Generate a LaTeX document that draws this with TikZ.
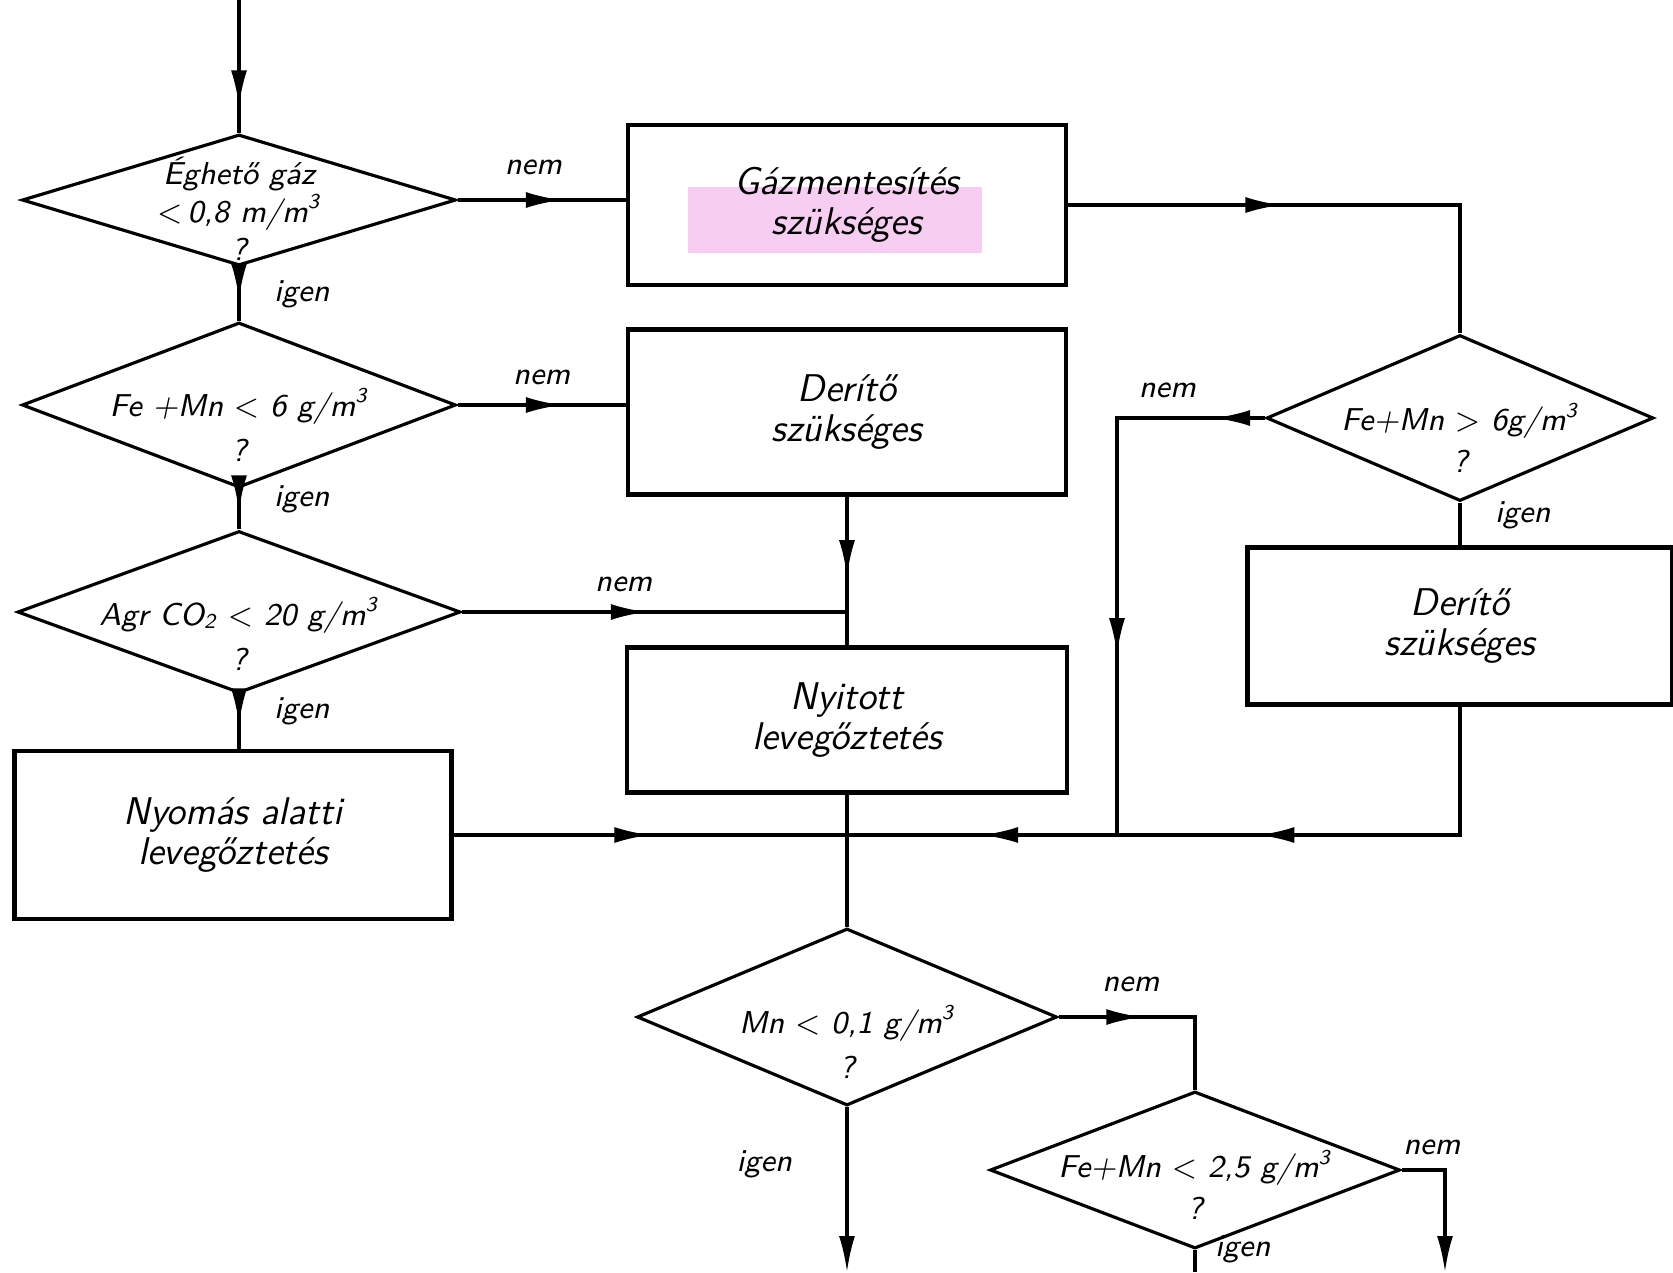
\documentclass[tikz,border=0pt]{standalone}
\usetikzlibrary{positioning, calc, arrows.meta, shapes.geometric, decorations.markings, backgrounds}

\begin{document}
\begin{tikzpicture}[
  >={Latex[length=3.6mm, width=1.6mm]}, line width=0.9pt,
  font=\sffamily\itshape,
  block/.style 2 args = {draw, rectangle, line width=1.2pt, inner sep=2pt, align=center,
                         minimum width=#1, minimum height=#2, font=\sffamily\itshape\fontsize{11}{11.5}\selectfont},
  dec/.style 2 args   = {draw, diamond, inner sep=0pt, minimum width=#1, minimum height=#2},
  dtxt/.style   = {align=center, inner sep=0pt, font=\sffamily\itshape\fontsize{9}{9}\selectfont},
  lbl/.style    = {font=\sffamily\itshape\small, inner sep=1pt},
  midtip/.style = {postaction={decorate, decoration={markings,
                   mark=at position #1 with {\arrow{>}}}}},
]
  \useasboundingbox (0,0) rectangle (16.73,-12.72);

  % ── left column: decisions ────────────────────────────────────────────
  \node[dec={4.34cm}{1.31cm}, label={[dtxt, yshift=-0.9mm]center:{Éghető gáz\\$<$\,0,8 m/m\textsuperscript{3}\\[2pt]?}}] (d1) at (2.39,-2.00) {};
  \node[dec={4.34cm}{1.65cm}, label={[dtxt, yshift=-2mm]center:{Fe +Mn $<$ 6 g/m\textsuperscript{3}\\[4pt]?}}] (d2) at (2.39,-4.05) {};
  \node[dec={4.43cm}{1.62cm}, label={[dtxt, yshift=-2.2mm]center:{Agr CO\textsubscript{2} $<$ 20 g/m\textsuperscript{3}\\[4pt]?}}] (d3) at (2.39,-6.12) {};
  \node[block={4.37cm}{1.68cm}] (b4) at (2.33,-8.35) {Nyomás alatti\\levegőztetés};

  % ── middle column: treatment steps ────────────────────────────────────
  \node[block={4.38cm}{1.60cm}] (b1) at (8.47,-2.05) {Gázmentesítés\\szükséges};
  \node[block={4.38cm}{1.65cm}] (b2) at (8.47,-4.12) {Derítő\\szükséges};
  \node[block={4.40cm}{1.45cm}] (b3) at (8.47,-7.20) {Nyitott\\levegőztetés};

  % highlighter mark on the scanned page
  \begin{scope}[on background layer]
    \fill[fill={rgb,255:red,247;green,206;blue,242}] ($(b1.center)+(-1.59,-0.48)$) rectangle ($(b1.center)+(1.35,0.18)$);
  \end{scope}

  % ── right column ──────────────────────────────────────────────────────
  \node[dec={3.87cm}{1.66cm}, label={[dtxt, yshift=-2mm]center:{Fe+Mn $>$ 6g/m\textsuperscript{3}\\[3pt]?}}] (d4) at (14.60,-4.18) {};
  \node[block={4.25cm}{1.57cm}] (b5) at (14.60,-6.26) {Derítő\\szükséges};

  % ── bottom decisions ──────────────────────────────────────────────────
  \node[dec={4.20cm}{1.77cm}, label={[dtxt, yshift=-2.5mm]center:{Mn $<$ 0,1 g/m\textsuperscript{3}\\[4pt]?}}] (d5) at (8.47,-10.17) {};
  \node[dec={4.10cm}{1.57cm}, label={[dtxt, yshift=-1.5mm]center:{Fe+Mn $<$ 2,5 g/m\textsuperscript{3}\\[3pt]?}}] (d6) at (11.95,-11.70) {};

  % ── junctions and free ends ───────────────────────────────────────────
  \coordinate (in)   at (2.39,0);
  \coordinate (j2)   at (8.47,-6.12);
  \coordinate (j1)   at (11.17,-8.35);
  \coordinate (m)    at (8.47,-8.35);
  \coordinate (out1) at (8.47,-12.72);
  \coordinate (out2) at (14.45,-12.72);
  \coordinate (out3) at (11.95,-12.72);

  % ── connectors ────────────────────────────────────────────────────────
  \draw[midtip=0.8] (in) -- (d1.north);

  \draw[midtip=0.62] (d1.east) -- node[lbl, above=2mm, pos=0.45] (n1) {nem} (d1.east -| b1.west);
  \draw[midtip=0.6]  (d1.south) -- node[lbl, right=3mm, pos=0.5] (y1) {igen} (d2.north);
  \draw[midtip=0.62] (d2.east) -- node[lbl, above=1.5mm, pos=0.5] (n2) {nem} (d2.east -| b2.west);
  \draw[midtip=0.55] (d2.south) -- node[lbl, right=3mm, pos=0.25] (y2) {igen} (d3.north);
  \draw[midtip=0.48] (d3.east) -- node[lbl, above=1.5mm, pos=0.42] (n3) {nem} (j2);
  \draw[midtip=0.55] (d3.south) -- node[lbl, right=3mm, pos=0.3] (y3) {igen} (d3.south |- b4.north);

  \draw[midtip=0.69] (b2.south) -- (j2);
  \draw (j2) -- (b3.north);

  \draw[midtip=0.41] (b1.east) -- (b1.east -| d4.north) -- (d4.north);
  \draw[midtip=0.09, midtip=0.68] (d4.west) -- node[lbl, above=1.5mm, pos=0.66] (n4) {nem} (d4.west -| j1) -- (j1);
  \draw (d4.south) -- node[lbl, right=3mm, pos=0.3] (y4) {igen} (b5.north);
  \draw[midtip=0.7] (b5.south) -- (b5.south |- j1) -- (j1);
  \draw[midtip=0.5] (j1) -- (m);
  \draw[midtip=0.5] (b4.east |- m) -- (m);

  \draw (b3.south) -- (m) -- (d5.north);

  \draw[midtip=0.4] (d5.east) -- node[lbl, above=2mm, pos=0.53] (n5) {nem} (d5.east -| d6.north) -- (d6.north);
  \draw[->] (d5.south) -- node[lbl, left=5mm, pos=0.35] (y5) {igen} (out1);
  \draw[->] (d6.east) -- node[lbl, above=1mm, pos=0.7] (n6) {nem} (d6.east -| out2) -- (out2);
  \draw (d6.south) -- node[lbl, anchor=south west, pos=1, xshift=1.5mm, yshift=0.4mm] (y6) {igen} (out3);

\end{tikzpicture}
\end{document}
